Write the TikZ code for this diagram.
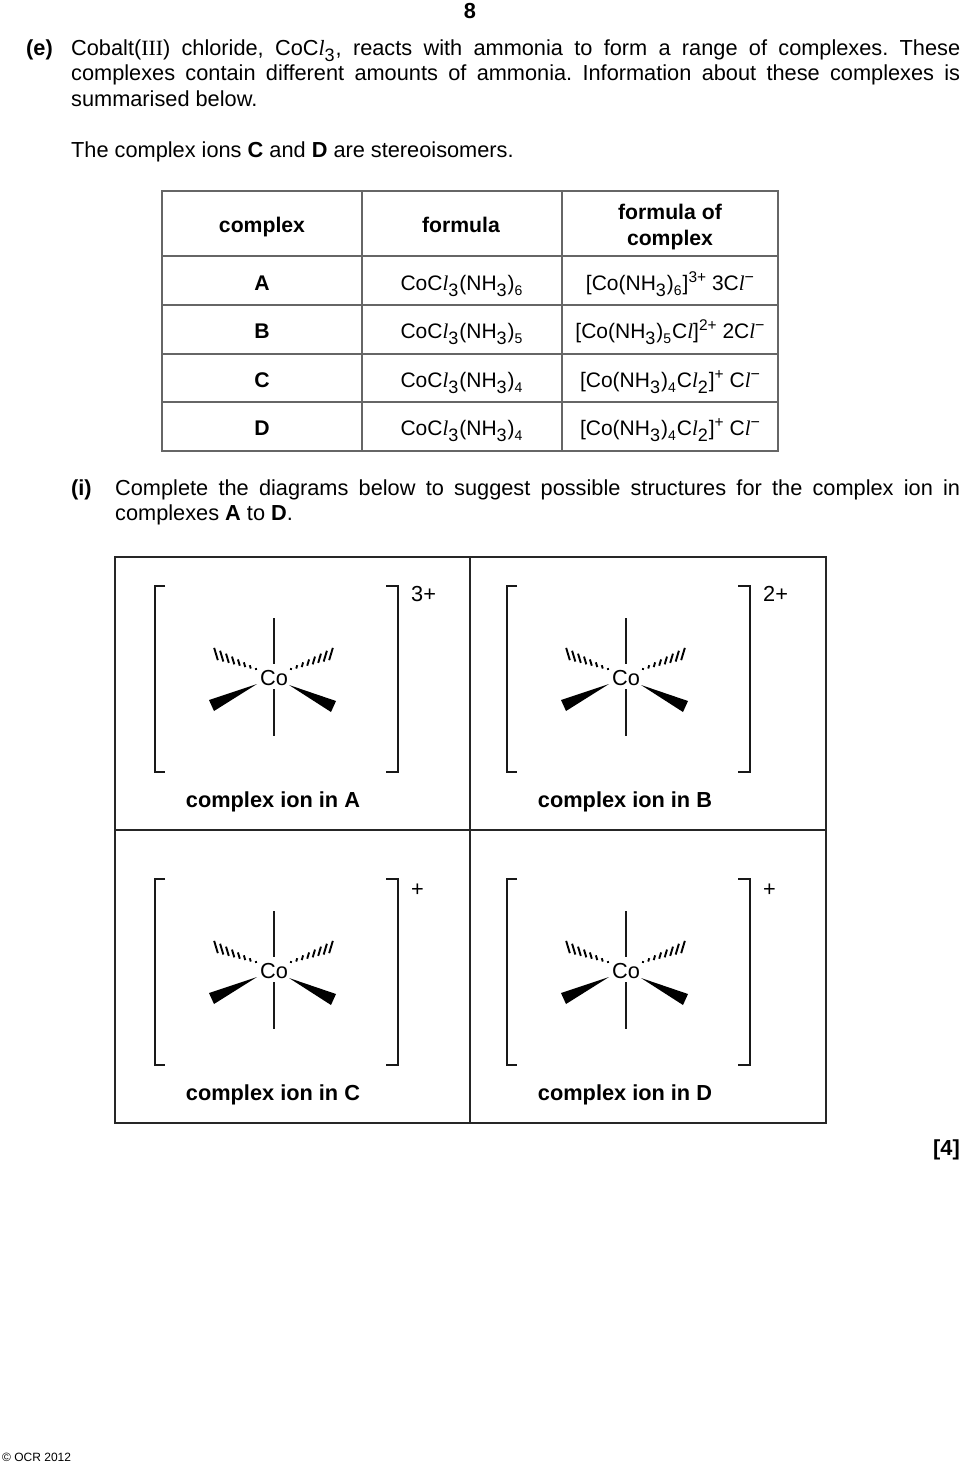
\documentclass[tikz,border=0pt]{standalone}
\usepackage{fontspec}
\setmainfont{Liberation Sans}
\newfontfamily\timesfont{Liberation Serif}
\newcommand{\chl}{\textit{\timesfont l}}
\newcommand{\lowsub}[1]{\raisebox{-6.5pt}{\fontsize{18}{18}\selectfont #1}\kern1pt}
\newcommand{\smallsub}[1]{\raisebox{-5pt}{\fontsize{14}{14}\selectfont #1}\kern1pt}
\newcommand{\highsup}[1]{\raisebox{8pt}{\fontsize{15.5}{16}\selectfont #1}}
\newcommand{\minussup}{\raisebox{8pt}{\fontsize{16}{16}\selectfont\textminus}}
\newcommand{\cocl}[1]{CoC\chl\lowsub{3}(NH\lowsub{3})\smallsub{#1}}
\tikzset{
  txt/.style={inner sep=0pt,anchor=base west,font=\fontsize{21.75}{25.5}\selectfont},
  para/.style={txt,text width=889pt,align=justify},
  cell/.style={inner sep=0pt,anchor=base,align=center,font=\fontsize{21}{25.5}\selectfont},
  head/.style={cell,font=\fontsize{21.2}{25.5}\selectfont\bfseries},
  ionlabel/.style={cell,font=\fontsize{21.75}{25.5}\selectfont\bfseries},
  rule/.style={draw=black!60,line width=1.3pt},
  frame/.style={draw=black!85,line width=2.6pt},
  bond/.style={line width=2pt,black!90},
}
\begin{document}
\begin{tikzpicture}[x=1pt,y=-1pt]
\useasboundingbox (0,0) rectangle (960,1465);
%% header text
\node (node_page) at (470,18) [ionlabel] {8};
\node (node_e) at (26,55) [txt] {\bfseries (e)};
\node (node_intro) at (71,55) [para] {\hyphenpenalty=10000\exhyphenpenalty=10000\tolerance=9999\frenchspacing Cobalt(\textrm{\timesfont III}) chloride, CoC\chl\lowsub{3}, reacts with ammonia to form a range of complexes. These complexes contain different amounts of ammonia. Information about these complexes is summarised below.\par};
\node (node_stereo) at (71,157) [txt] {The complex ions \textbf{C} and \textbf{D} are stereoisomers.};
%% table
\draw [rule] (162,191) rectangle (778,451);
\foreach \y in {256,305,354,402} \draw [rule] (162,\y) -- (778,\y);
\foreach \x in {362,562} \draw [rule] (\x,191) -- (\x,451);
\node (node_hcomplex) at (262,232) [head] {complex};
\node (node_hformula) at (461,232) [head] {formula};
\node (node_hof) at (670,219) [head] {formula of};
\node (node_hof2) at (670,245) [head] {complex};
\node (node_a) at (262,290) [head] {A};
\node (node_b) at (262,338) [head] {B};
\node (node_c) at (262,387) [head] {C};
\node (node_d) at (262,435) [head] {D};
\node (node_fa) at (462,290) [cell] {\cocl{6}};
\node (node_fb) at (462,338) [cell] {\cocl{5}};
\node (node_fc) at (462,387) [cell] {\cocl{4}};
\node (node_fd) at (462,435) [cell] {\cocl{4}};
\node (node_ca) at (670,290) [cell] {[Co(NH\lowsub{3})\smallsub{6}]\highsup{3+}\ 3C\chl\minussup};
\node (node_cb) at (670,338) [cell] {[Co(NH\lowsub{3})\smallsub{5}C\chl]\highsup{2+}\ 2C\chl\minussup};
\node (node_cc) at (670,387) [cell] {[Co(NH\lowsub{3})\smallsub{4}C\chl\lowsub{2}]\highsup{+}\ C\chl\minussup};
\node (node_cd) at (670,435) [cell] {[Co(NH\lowsub{3})\smallsub{4}C\chl\lowsub{2}]\highsup{+}\ C\chl\minussup};
%% question text
\node (node_i) at (71,495) [txt] {\bfseries (i)};
\node (node_q) at (115,495) [para,text width=845pt] {\hyphenpenalty=10000\exhyphenpenalty=10000\tolerance=9999 Complete the diagrams below to suggest possible structures for the complex ion in complexes \textbf{A} to \textbf{D}.\par};
%% answer panels
\draw [frame] (115,557) rectangle (826,1123);
\draw [frame] (470,557) -- (470,1123);
\draw [frame] (115,830) -- (826,830);
\foreach \dx/\dy/\chg/\chgy/\lbl in {0/0/3+/601/A,352/0/2+/601/B,0/293/+/603/C,352/293/+/603/D} {
  \begin{scope}[shift={(\dx,\dy)}]
    \node (node_co\lbl) at (274,678) [inner sep=0pt,font=\fontsize{21.75}{25.5}\selectfont] {Co};
    \node (node_chg\lbl) at (411,\chgy) [txt] {\chg};
    \node (node_ion\lbl) at (273,807) [ionlabel] {complex ion in \lbl};
    \draw [bond] (165,586) -- (155,586) -- (155,772) -- (165,772);
    \draw [bond] (386,586) -- (398,586) -- (398,772) -- (386,772);
    \draw [bond] (274,618) -- (274,664);
    \draw [bond] (274,689) -- (274,736);
    \fill (257,684) -- (209,700) -- (214,711) -- cycle;
    \fill (289,685) -- (336,701) -- (331,712) -- cycle;
    \foreach \t in {0,1,...,7} {
      \pgfmathsetmacro{\cx}{\t/7}
      \pgfmathsetmacro{\hl}{0.9+0.75*\t}
      \draw [black,line width=1.9pt] (256-40*\cx-\hl*0.3,669-15*\cx-\hl) -- (256-40*\cx+\hl*0.3,669-15*\cx+\hl);
      \draw [black,line width=1.9pt] (291+40*\cx+\hl*0.3,669-15*\cx-\hl) -- (291+40*\cx-\hl*0.3,669-15*\cx+\hl);
    }
  \end{scope}
}
%% marks and footer
\node (node_mark) at (960,1155) [ionlabel,anchor=base east] {[4]};
\node (node_ocr) at (2,1461) [txt,font=\fontsize{12}{12}\selectfont] {© OCR 2012};
%
\end{tikzpicture}
\end{document}
